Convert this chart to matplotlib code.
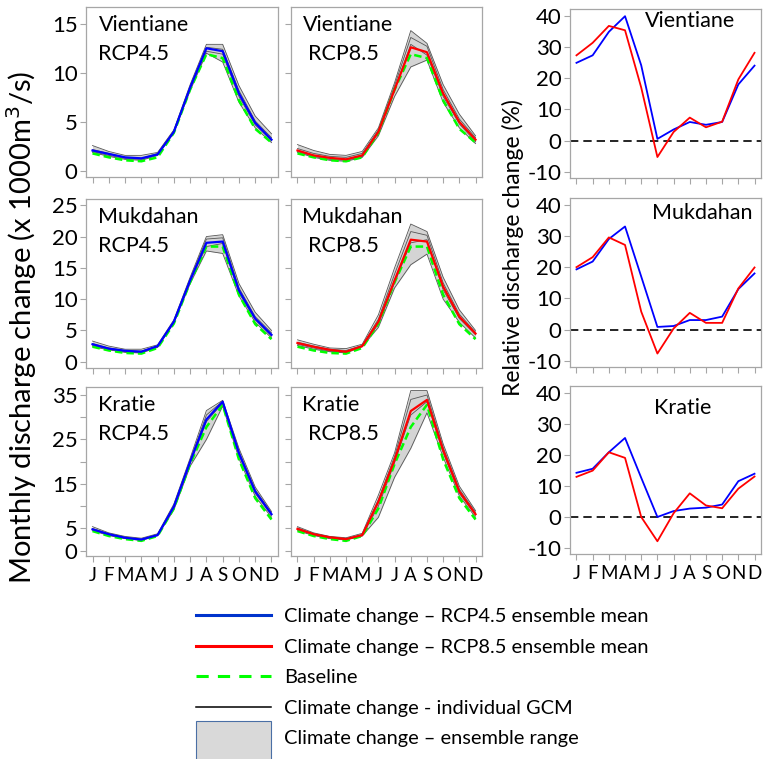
import numpy as np
import matplotlib
matplotlib.use('Agg')
import matplotlib.pyplot as plt
from matplotlib.lines import Line2D
from matplotlib.patches import Rectangle
from matplotlib.legend_handler import HandlerPatch

plt.rcParams['font.family'] = ['Lato', 'DejaVu Sans']
plt.rcParams['axes.unicode_minus'] = False

months = ['J', 'F', 'M', 'A', 'M', 'J', 'J', 'A', 'S', 'O', 'N', 'D']
stations = ['Vientiane', 'Mukdahan', 'Kratie']

# monthly discharge (x 1000 m3/s), baseline
base_vte = [1.8, 1.4, 1.1, 1.0, 1.4, 3.9, 8.3, 11.9, 11.5, 7.2, 4.3, 2.9]
base_mkd = [2.4, 1.8, 1.4, 1.3, 2.2, 6.1, 12.7, 18.4, 18.4, 10.7, 6.0, 3.6]
base_kra = [4.4, 3.3, 2.6, 2.2, 3.3, 9.5, 19.5, 27.8, 32.8, 20.5, 11.8, 7.0]

# ensemble means
rcp45_vte = [2.1, 1.75, 1.4, 1.3, 1.7, 4.0, 8.5, 12.5, 12.2, 7.9, 4.9, 3.2]
rcp85_vte = [2.1, 1.6, 1.35, 1.2, 1.6, 4.0, 8.3, 12.6, 12.1, 7.9, 5.0, 3.2]
rcp45_mkd = [2.8, 2.1, 1.75, 1.6, 2.5, 6.4, 13.0, 19.0, 19.2, 11.4, 6.9, 4.3]
rcp85_mkd = [3.0, 2.4, 1.9, 1.6, 2.5, 6.4, 13.0, 19.5, 19.2, 12.0, 7.2, 4.5]
rcp45_kra = [4.8, 3.7, 2.9, 2.5, 3.5, 9.9, 20.0, 29.5, 33.5, 21.9, 13.3, 8.2]
rcp85_kra = [4.9, 3.7, 3.0, 2.6, 3.5, 11.0, 20.4, 31.4, 33.9, 22.6, 13.3, 8.2]

# individual GCMs
gcm45_vte = [
    [2.6, 2.0, 1.6, 1.6, 1.9, 4.2, 8.8, 12.9, 12.9, 8.7, 5.6, 3.8],
    [2.2, 1.8, 1.4, 1.3, 1.8, 4.1, 8.6, 12.6, 12.4, 8.2, 5.1, 3.4],
    [2.0, 1.6, 1.3, 1.2, 1.7, 4.0, 8.4, 12.2, 11.9, 7.6, 4.7, 3.1],
    [1.9, 1.5, 1.2, 1.1, 1.6, 3.9, 8.2, 12.0, 11.1, 7.0, 4.4, 2.9],
]
gcm85_vte = [
    [2.7, 2.1, 1.7, 1.6, 2.0, 4.4, 9.0, 14.3, 13.0, 8.8, 5.8, 3.6],
    [2.3, 1.8, 1.5, 1.4, 1.8, 4.2, 8.7, 13.6, 12.7, 8.3, 5.3, 3.4],
    [2.0, 1.5, 1.2, 1.1, 1.5, 3.9, 8.3, 12.9, 11.8, 7.6, 4.8, 3.0],
    [1.9, 1.4, 1.1, 1.0, 1.4, 3.6, 7.6, 10.6, 11.3, 7.0, 4.4, 2.8],
]
gcm45_mkd = [
    [3.3, 2.5, 2.0, 2.0, 2.7, 6.7, 13.5, 20.0, 20.3, 12.5, 7.9, 5.0],
    [2.9, 2.2, 1.8, 1.7, 2.5, 6.5, 13.2, 19.6, 19.8, 11.8, 7.2, 4.6],
    [2.6, 2.0, 1.6, 1.5, 2.4, 6.3, 12.9, 18.4, 18.9, 11.0, 6.7, 4.1],
    [2.4, 1.9, 1.5, 1.4, 2.3, 6.2, 12.5, 17.7, 17.3, 10.5, 6.3, 3.8],
]
gcm85_mkd = [
    [3.5, 2.8, 2.2, 2.1, 2.8, 7.5, 15.0, 22.0, 20.8, 13.5, 8.3, 5.0],
    [3.1, 2.5, 2.0, 1.8, 2.6, 6.8, 14.0, 20.8, 20.2, 12.6, 7.6, 4.7],
    [2.8, 2.2, 1.7, 1.5, 2.5, 6.0, 12.6, 19.0, 19.5, 11.5, 6.9, 4.3],
    [2.6, 2.0, 1.6, 1.4, 2.4, 5.5, 11.8, 15.5, 17.2, 10.0, 6.3, 3.8],
]
gcm45_kra = [
    [5.4, 4.0, 3.2, 2.8, 3.8, 10.5, 20.8, 31.5, 33.8, 23.0, 14.3, 8.8],
    [5.0, 3.8, 3.0, 2.6, 3.6, 10.1, 20.3, 30.5, 33.6, 22.3, 13.7, 8.4],
    [4.7, 3.6, 2.8, 2.4, 3.5, 9.6, 19.6, 29.0, 33.2, 21.5, 12.9, 8.0],
    [4.5, 3.4, 2.7, 2.3, 3.4, 9.2, 19.0, 25.0, 32.5, 20.7, 12.2, 7.5],
]
gcm85_kra = [
    [5.4, 4.0, 3.2, 2.9, 3.9, 12.5, 22.0, 36.0, 36.0, 24.0, 14.5, 9.0],
    [5.1, 3.8, 3.1, 2.7, 3.6, 11.5, 21.2, 34.0, 35.0, 23.2, 13.8, 8.6],
    [4.8, 3.6, 2.9, 2.5, 3.4, 10.0, 19.8, 30.5, 33.5, 22.0, 12.9, 8.0],
    [4.5, 3.4, 2.7, 2.4, 3.3, 7.5, 16.5, 23.0, 31.0, 21.0, 12.3, 7.5],
]

# relative change (%)
rel45_vte = [24.9, 27.3, 34.8, 39.8, 24.1, 0.6, 3.6, 6.0, 5.1, 6.0, 18.0, 24.0]
rel85_vte = [27.3, 31.3, 36.7, 35.3, 17.0, -5.2, 2.8, 7.4, 4.3, 6.1, 19.6, 28.1]
rel45_mkd = [19.3, 21.8, 29.0, 33.0, 17.0, 0.9, 1.2, 3.1, 3.1, 4.2, 13.0, 18.0]
rel85_mkd = [20.0, 23.2, 29.5, 27.1, 5.8, -7.6, 0.4, 5.4, 2.2, 2.2, 13.2, 19.9]
rel45_kra = [14.2, 15.5, 20.8, 25.4, 12.6, 0.0, 1.9, 2.7, 3.0, 4.0, 11.5, 13.9]
rel85_kra = [12.9, 14.9, 20.8, 19.0, 0.0, -7.8, 1.2, 7.6, 3.7, 2.8, 9.1, 13.0]

base = [base_vte, base_mkd, base_kra]
mean45 = [rcp45_vte, rcp45_mkd, rcp45_kra]
mean85 = [rcp85_vte, rcp85_mkd, rcp85_kra]
gcm45 = [gcm45_vte, gcm45_mkd, gcm45_kra]
gcm85 = [gcm85_vte, gcm85_mkd, gcm85_kra]
rel45 = [rel45_vte, rel45_mkd, rel45_kra]
rel85 = [rel85_vte, rel85_mkd, rel85_kra]

ylims = [(-0.6, 16.7), (-1.0, 26.0), (-1.2, 36.8)]
yticks = [[0, 5, 10, 15], [0, 5, 10, 15, 20, 25], [0, 5, 10, 15, 20, 25, 30, 35]]
yticklabels = [['0', '5', '10', '15'], ['0', '5', '10', '15', '20', '25'],
               ['0', '5', '', '15', '', '25', '', '35']]

W, H = 764, 759
fig = plt.figure(figsize=(W / 100, H / 100), dpi=100)

def px_axes(x0, x1, y0, y1):
    return fig.add_axes([x0 / W, 1 - y1 / H, (x1 - x0) / W, (y1 - y0) / H])

spine_col = '#a6a6a6'
x = np.arange(12)
rows_lr = [(7, 177), (199, 368), (387, 556)]
rows_r = [(9, 178), (198, 367), (386, 554)]
right_text = [(0.63, 0.93), (0.69, 0.91), (0.59, 0.87)]

def style(ax, bottom):
    for s in ax.spines.values():
        s.set_color(spine_col)
        s.set_linewidth(0.9)
    ax.set_xlim(-0.4, 11.4)
    ax.set_xticks(x)
    ax.tick_params(direction='out', length=4, color=spine_col, labelsize=16, pad=2)
    ax.tick_params(axis='x', labelsize=13.5, pad=4)
    if bottom:
        ax.set_xticklabels(months)
    else:
        ax.set_xticklabels([])

for i, st in enumerate(stations):
    y0, y1 = rows_lr[i]
    for j, (gcms, mean, col, rcp, (xa, xb)) in enumerate([
            (gcm45[i], mean45[i], '#0000ff', 'RCP4.5', (86, 278)),
            (gcm85[i], mean85[i], '#ff0000', 'RCP8.5', (291, 482))]):
        ax = px_axes(xa, xb, y0, y1)
        g = np.array(gcms)
        ax.fill_between(x, g.min(axis=0), g.max(axis=0), color='#d4d4d4', lw=0)
        for row in g:
            ax.plot(x, row, color='#555555', lw=0.6)
        ax.plot(x, base[i], color='#00ff00', lw=1.8, dashes=(3, 1.6))
        ax.plot(x, mean, color=col, lw=1.6)
        ax.set_ylim(*ylims[i])
        ax.set_yticks(yticks[i])
        if j == 0:
            ax.set_yticklabels(yticklabels[i])
        else:
            ax.set_yticklabels([])
        style(ax, i == 2)
        ax.text(0.065 if j == 0 else 0.06, 0.955, st, transform=ax.transAxes,
                fontsize=15.5, va='top', ha='left')
        ax.text(0.065 if j == 0 else 0.09, 0.78, rcp, transform=ax.transAxes,
                fontsize=15.5, va='top', ha='left')

    r0, r1 = rows_r[i]
    ax = px_axes(570, 761, r0, r1)
    ax.axhline(0, color='black', lw=1.2, dashes=(5, 3))
    ax.plot(x, rel45[i], color='#0000ff', lw=1.3)
    ax.plot(x, rel85[i], color='#ff0000', lw=1.3)
    ax.set_ylim(-11.9, 42.1)
    ax.set_yticks([-10, 0, 10, 20, 30, 40])
    style(ax, i == 2)
    tx, ty = right_text[i]
    ax.text(tx, ty, st, transform=ax.transAxes, fontsize=15.5, va='center', ha='center')

fig.text(22 / W, 1 - 327 / H, 'Monthly discharge change (x 1000m$^3$/s)',
         rotation=90, ha='center', va='center', fontsize=21)
fig.text(513 / W, 1 - 248 / H, 'Relative discharge change (%)',
         rotation=90, ha='center', va='center', fontsize=16.5)

# legend
handles = [
    Line2D([], [], color='#0033cc', lw=2.2),
    Line2D([], [], color='#ff0000', lw=2.2),
    Line2D([], [], color='#00ff00', lw=2.2, dashes=(4, 3)),
    Line2D([], [], color='black', lw=1.1),
    Rectangle((0, 0), 1, 1, facecolor='#d9d9d9', edgecolor='#4a6fa5', lw=0.8),
]
labels = ['Climate change \u2013 RCP4.5 ensemble mean',
          'Climate change \u2013 RCP8.5 ensemble mean',
          'Baseline',
          'Climate change - individual GCM',
          'Climate change \u2013 ensemble range']

def tall_box(legend, orig_handle, xdescent, ydescent, width, height, fontsize):
    return Rectangle((-xdescent, -ydescent + height / 2 + 11.5 - 40), width, 40)

fig.legend(handles, labels, loc='upper left', bbox_to_anchor=(188 / W, 1 - 600 / H),
           frameon=False, fontsize=14.4, handlelength=3.75, handletextpad=0.65,
           labelspacing=0.68, borderaxespad=0,
           handler_map={Rectangle: HandlerPatch(patch_func=tall_box)})

fig.savefig('out.png', dpi=100)
